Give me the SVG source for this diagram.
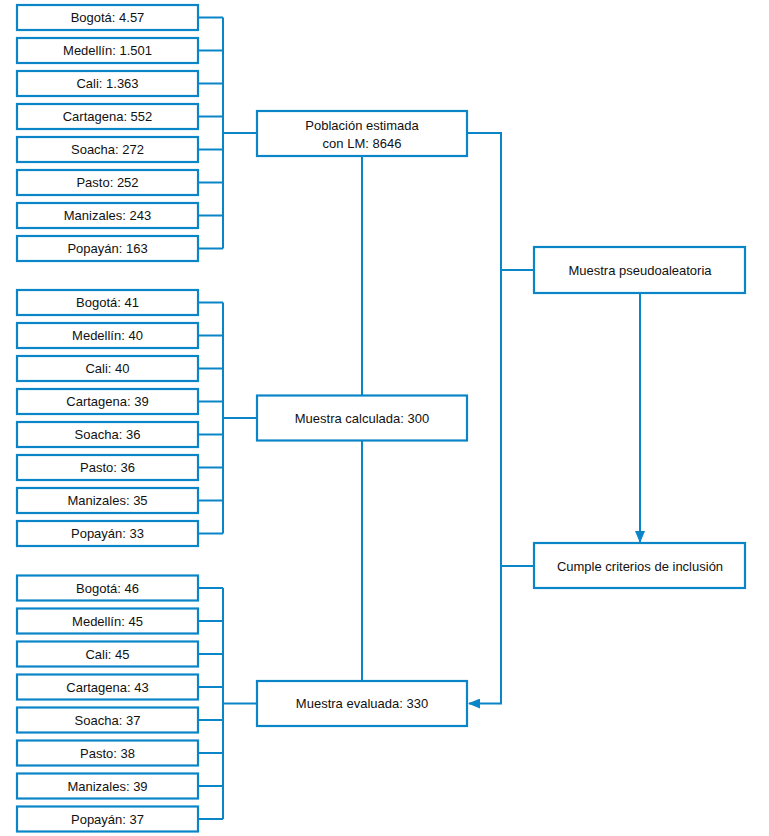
<svg xmlns="http://www.w3.org/2000/svg" width="769" height="836" viewBox="0 0 769 836">
<defs>
<style>
.b{fill:#fff;stroke:#0a86c8;stroke-width:2.2}
.l{fill:none;stroke:#0a86c8;stroke-width:2}
text{font-family:"Liberation Sans",Arial,sans-serif;font-size:13px;fill:#111;text-anchor:middle;dominant-baseline:central}
</style>
<marker id="ah" markerWidth="12" markerHeight="10" refX="11" refY="5" orient="auto" markerUnits="userSpaceOnUse">
<path d="M0,0 L12,5 L0,10 Z" fill="#0a86c8"/>
</marker>
</defs>
<rect width="769" height="836" fill="#fff"/>
<g id="connectors">
<path class="l" d="M198,17.5H223M198,50.5H223M198,83.5H223M198,116.5H223M198,149.5H223M198,182.5H223M198,215.5H223M198,248.5H223M223,17.5V248.5M223,133H257"/>
<path class="l" d="M198,302.5H223M198,335.5H223M198,368.5H223M198,401.5H223M198,434.5H223M198,467.5H223M198,500.5H223M198,533.5H223M223,302.5V533.5M223,418H257"/>
<path class="l" d="M198,588H223M198,621H223M198,654H223M198,687H223M198,720H223M198,753H223M198,786H223M198,819H223M223,588V819M223,703.5H257"/>
<path class="l" d="M362,156V395M362,441V681"/>
<path class="l" d="M467,133H501V703.5H469" marker-end="url(#ah)"/>
<path class="l" d="M501,270H534M501,566H534"/>
<path class="l" d="M640,293V542" marker-end="url(#ah)"/>
</g>
<g id="g1">
<g id="n1"><rect class="b" x="17" y="5" width="181" height="25"/><text x="107.5" y="17.5">Bogotá: 4.57</text></g>
<g id="n2"><rect class="b" x="17" y="38" width="181" height="25"/><text x="107.5" y="50.5">Medellín: 1.501</text></g>
<g id="n3"><rect class="b" x="17" y="71" width="181" height="25"/><text x="107.5" y="83.5">Cali: 1.363</text></g>
<g id="n4"><rect class="b" x="17" y="104" width="181" height="25"/><text x="107.5" y="116.5">Cartagena: 552</text></g>
<g id="n5"><rect class="b" x="17" y="137" width="181" height="25"/><text x="107.5" y="149.5">Soacha: 272</text></g>
<g id="n6"><rect class="b" x="17" y="170" width="181" height="25"/><text x="107.5" y="182.5">Pasto: 252</text></g>
<g id="n7"><rect class="b" x="17" y="203" width="181" height="25"/><text x="107.5" y="215.5">Manizales: 243</text></g>
<g id="n8"><rect class="b" x="17" y="236" width="181" height="25"/><text x="107.5" y="248.5">Popayán: 163</text></g>
</g>
<g id="g2">
<g id="m1"><rect class="b" x="17" y="290" width="181" height="25"/><text x="107.5" y="302.5">Bogotá: 41</text></g>
<g id="m2"><rect class="b" x="17" y="323" width="181" height="25"/><text x="107.5" y="335.5">Medellín: 40</text></g>
<g id="m3"><rect class="b" x="17" y="356" width="181" height="25"/><text x="107.5" y="368.5">Cali: 40</text></g>
<g id="m4"><rect class="b" x="17" y="389" width="181" height="25"/><text x="107.5" y="401.5">Cartagena: 39</text></g>
<g id="m5"><rect class="b" x="17" y="422" width="181" height="25"/><text x="107.5" y="434.5">Soacha: 36</text></g>
<g id="m6"><rect class="b" x="17" y="455" width="181" height="25"/><text x="107.5" y="467.5">Pasto: 36</text></g>
<g id="m7"><rect class="b" x="17" y="488" width="181" height="25"/><text x="107.5" y="500.5">Manizales: 35</text></g>
<g id="m8"><rect class="b" x="17" y="521" width="181" height="25"/><text x="107.5" y="533.5">Popayán: 33</text></g>
</g>
<g id="g3">
<g id="e1"><rect class="b" x="17" y="575.5" width="181" height="25"/><text x="107.5" y="588">Bogotá: 46</text></g>
<g id="e2"><rect class="b" x="17" y="608.5" width="181" height="25"/><text x="107.5" y="621">Medellín: 45</text></g>
<g id="e3"><rect class="b" x="17" y="641.5" width="181" height="25"/><text x="107.5" y="654">Cali: 45</text></g>
<g id="e4"><rect class="b" x="17" y="674.5" width="181" height="25"/><text x="107.5" y="687">Cartagena: 43</text></g>
<g id="e5"><rect class="b" x="17" y="707.5" width="181" height="25"/><text x="107.5" y="720">Soacha: 37</text></g>
<g id="e6"><rect class="b" x="17" y="740.5" width="181" height="25"/><text x="107.5" y="753">Pasto: 38</text></g>
<g id="e7"><rect class="b" x="17" y="773.5" width="181" height="25"/><text x="107.5" y="786">Manizales: 39</text></g>
<g id="e8"><rect class="b" x="17" y="806.5" width="181" height="25"/><text x="107.5" y="819">Popayán: 37</text></g>
</g>
<g id="poblacion"><rect class="b" x="257" y="111" width="210" height="45"/><text x="362" y="125">Población estimada</text><text x="362" y="143">con LM: 8646</text></g>
<g id="calculada"><rect class="b" x="257" y="395.5" width="210" height="45"/><text x="362" y="418">Muestra calculada: 300</text></g>
<g id="evaluada"><rect class="b" x="257" y="681" width="210" height="45"/><text x="362" y="703.5">Muestra evaluada: 330</text></g>
<g id="pseudo"><rect class="b" x="534" y="247" width="211" height="46"/><text x="640" y="270">Muestra pseudoaleatoria</text></g>
<g id="cumple"><rect class="b" x="534" y="543" width="211" height="45"/><text x="640" y="566">Cumple criterios de inclusión</text></g>
</svg>
